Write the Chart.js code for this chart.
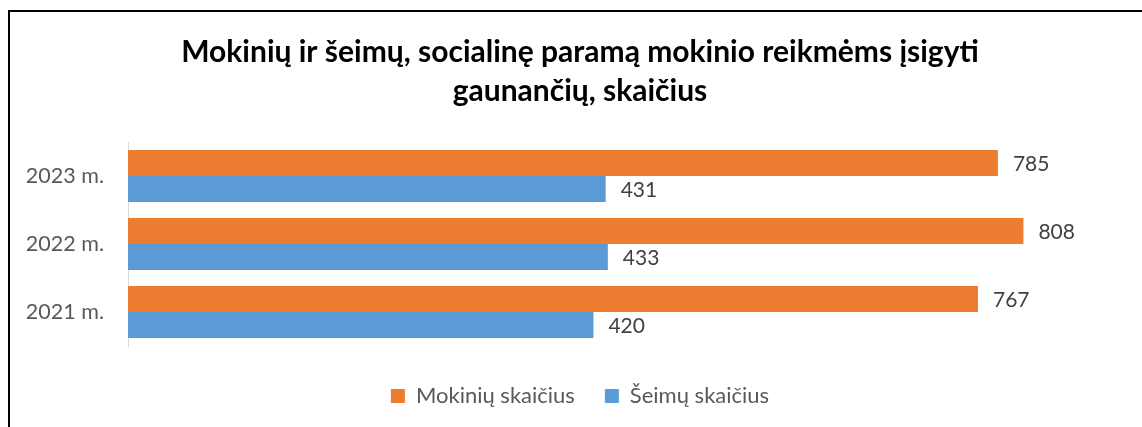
<!DOCTYPE html>
<html>
<head>
<meta charset="utf-8">
<script src="https://cdn.jsdelivr.net/npm/chart.js@4"></script>
<style>
  html, body { margin: 0; padding: 0; background: #fff; overflow: hidden; }
  #wrap { position: relative; width: 1142px; height: 427px; }
  #frame { position: absolute; left: 8px; top: 10px; right: -10px; bottom: -10px;
           border-left: 2px solid #000; border-top: 2px solid #000; pointer-events: none; }
</style>
</head>
<body>
<div id="wrap">
  <canvas id="chart" width="1142" height="427"></canvas>
  <div id="frame"></div>
</div>
<script>
  // duomenys
  var categories = ['2023 m.', '2022 m.', '2021 m.'];
  var mokiniai = [785, 808, 767];
  var seimos = [431, 433, 420];
  var seriesNames = ['Mokinių skaičius', 'Šeimų skaičius'];
  var titleLines = ['Mokinių ir šeimų, socialinę paramą mokinio reikmėms įsigyti', 'gaunančių, skaičius'];

  var FONT = 'Lato';

  // reikšmės prie stulpelių galo
  var valueLabels = {
    id: 'valueLabels',
    afterDatasetsDraw: function(chart) {
      var ctx = chart.ctx;
      ctx.save();
      ctx.font = '21px ' + FONT;
      ctx.fillStyle = '#404040';
      ctx.textAlign = 'left';
      ctx.textBaseline = 'middle';
      chart.data.datasets.forEach(function(ds, i) {
        var meta = chart.getDatasetMeta(i);
        meta.data.forEach(function(bar, j) {
          ctx.fillText(ds.data[j], bar.x + 15, bar.y + 1);
        });
      });
      ctx.restore();
    }
  };

  var ctx = document.getElementById('chart').getContext('2d');
  var chart = new Chart(ctx, {
    type: 'bar',
    data: {
      labels: categories,
      datasets: [
        { label: seriesNames[0], data: mokiniai, backgroundColor: '#ED7D31' },
        { label: seriesNames[1], data: seimos, backgroundColor: '#5B9BD5' }
      ]
    },
    options: {
      indexAxis: 'y',
      responsive: false,
      animation: false,
      layout: { padding: { left: 18, right: 0, top: 0, bottom: 10 } },
      datasets: { bar: { categoryPercentage: 0.765, barPercentage: 1 } },
      scales: {
        x: {
          min: 0, max: 915,
          grid: { display: false },
          border: { display: false },
          ticks: { display: false },
          afterFit: function(scale) { scale.height = 9; }
        },
        y: {
          grid: { display: false, drawTicks: false },
          border: { display: true, color: '#d9d9d9', width: 1 },
          ticks: { color: '#595959', font: { family: FONT, size: 21.5 }, padding: 24 },
          afterFit: function(scale) { scale.width = 110; }
        }
      },
      plugins: {
        title: {
          display: true,
          text: titleLines,
          color: '#000',
          font: { family: FONT, size: 30, weight: 'bold', lineHeight: 1.3 },
          padding: { top: 33, bottom: 31 }
        },
        legend: {
          position: 'bottom',
          labels: {
            color: '#595959',
            font: { family: FONT, size: 22 },
            boxWidth: 14,
            boxHeight: 14,
            padding: 30
          }
        },
        tooltip: { enabled: false }
      }
    },
    plugins: [valueLabels]
  });
</script>
</body>
</html>
